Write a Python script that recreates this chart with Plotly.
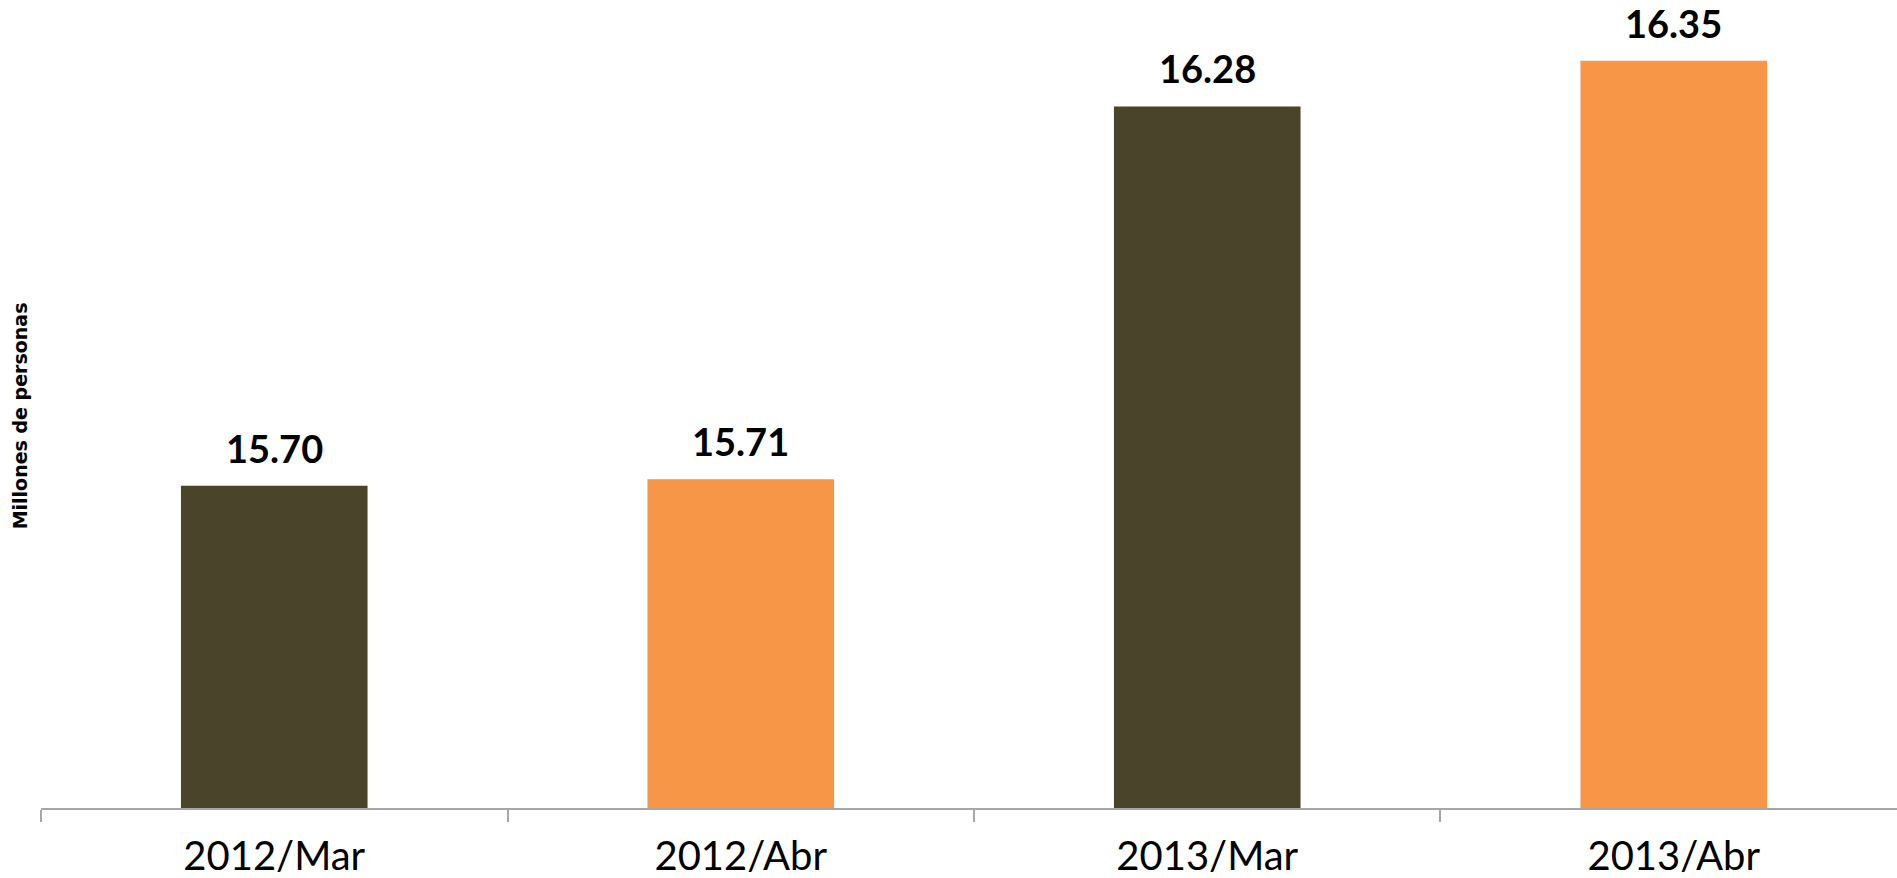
import plotly.graph_objects as go

# Población ocupada (millones de personas)
categories = ["2012/Mar", "2012/Abr", "2013/Mar", "2013/Abr"]
values = [15.70, 15.71, 16.28, 16.35]
bar_colors = ["#4A452A", "#F79646", "#4A452A", "#F79646"]
value_labels = [f"{v:.2f}" for v in values]

y_min = 15.207
y_max = 16.4123

fig = go.Figure()
fig.add_trace(go.Bar(
    x=categories,
    y=values,
    marker=dict(color=bar_colors, line=dict(width=0)),
    width=0.4,
    hoverinfo="x+y",
))

for cat, v, lab in zip(categories, values, value_labels):
    fig.add_annotation(
        x=cat, y=v, text=lab, showarrow=False,
        xref="x", yref="y", yanchor="bottom", yshift=13,
        font=dict(family="Lato", size=38, color="#000000", weight="bold"),
    )

fig.add_annotation(
    text="Millones de personas", textangle=-90, showarrow=False,
    xref="paper", yref="paper", x=-21 / 1856, y=0.497,
    xanchor="center", yanchor="middle",
    font=dict(family="DejaVu Sans", size=19, color="#000000", weight="bold"),
)

fig.update_layout(
    width=1897, height=878,
    margin=dict(l=41, r=0, t=20, b=70),
    paper_bgcolor="#FFFFFF", plot_bgcolor="#FFFFFF",
    showlegend=False,
)
fig.update_xaxes(
    type="category",
    range=[-0.5, 3.4786],
    showline=True, linecolor="#A6A6A6", linewidth=2,
    ticks="outside", tickson="boundaries", ticklen=12, tickcolor="#A6A6A6", tickwidth=2,
    tickfont=dict(family="Lato", size=40, color="#000000"),
    ticklabelstandoff=12,
    showgrid=False, zeroline=False,
)
fig.update_yaxes(
    range=[y_min, y_max],
    showticklabels=False, showgrid=False, zeroline=False, showline=False,
)

fig.write_html("out.html")
